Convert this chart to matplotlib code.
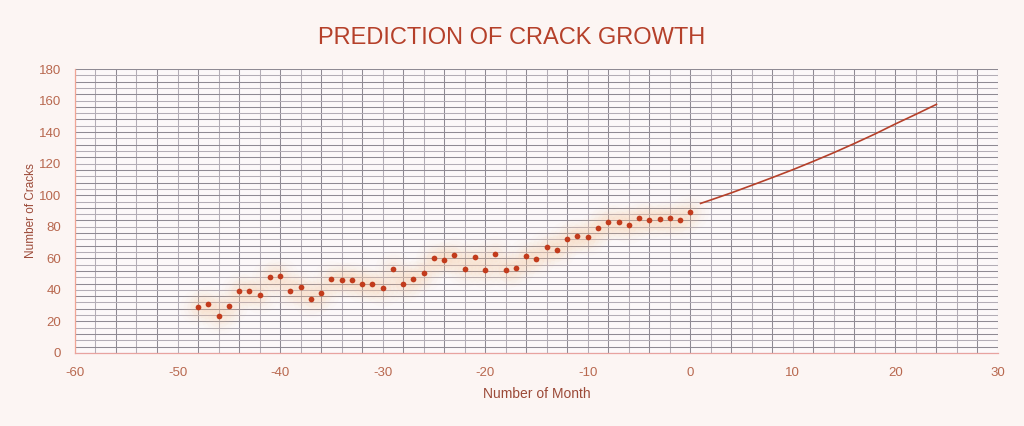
import numpy as np
import matplotlib.pyplot as plt

plt.rcParams['font.family'] = ['Liberation Sans', 'DejaVu Sans']
plt.rcParams['axes.unicode_minus'] = False

# observed cracks per month (month 0 = now)
months = list(range(-48, 1))
cracks = [29, 31, 23.5, 30, 39.5, 39, 37, 48, 49, 39, 42, 34, 38, 47, 46, 46, 44, 44,
          41, 53, 44, 47, 51, 60.5, 59, 62, 53, 61, 52.5, 63, 52.5, 54, 61.5, 59.5,
          67, 65, 72, 74, 73.5, 79, 83, 83, 81, 85.5, 84.5, 85, 85.5, 84.5, 89.5]

# predicted growth curve
pred_months = [1, 2, 4, 6, 8, 10, 12, 14, 16, 18, 20, 22, 24]
pred_cracks = [94.8, 97, 101.5, 106.3, 111.2, 116.2, 121.5, 127, 132.8, 138.8, 145.2, 151.3, 157.6]

bg = '#fcf5f3'
red = '#b5402a'

fig = plt.figure(figsize=(10.24, 4.26), dpi=100, facecolor=bg)
ax = fig.add_axes([0.0732, 0.1714, 0.9014, 0.6666])
ax.set_facecolor('#fcf8f9')

ax.set_xlim(-60, 30)
ax.set_ylim(0, 180)

# grid: vertical every 2 months, horizontal every 4 cracks, alternating shades
for i, gx in enumerate(np.arange(-60, 31, 2)):
    c = '#8f8a93' if i % 2 == 0 else '#b3adb6'
    ax.axvline(gx, color=c, lw=0.75, zorder=1)
for i, gy in enumerate(np.arange(0, 181, 4)):
    c = '#8f8a93' if i % 2 == 1 else '#b3adb6'
    ax.axhline(gy, color=c, lw=0.75, zorder=1)

# soft glow behind the points
for s, a in [(700, 0.035), (450, 0.045), (260, 0.06), (130, 0.08)]:
    ax.scatter(months, cracks, s=s, color='#f8c79a', alpha=a, linewidths=0, zorder=2)
ax.scatter(months, cracks, s=17, color='#c23b1c', linewidths=0, zorder=3)

ax.plot(pred_months, pred_cracks, color='#b5402a', lw=1.2, zorder=3)

ax.set_xticks(range(-60, 31, 10))
ax.set_yticks(range(0, 181, 20))
ax.tick_params(length=0, labelsize=9.5, labelcolor='#b8684f', pad=10)

for side in ['top', 'right']:
    ax.spines[side].set_visible(False)
ax.spines['left'].set_color('#f0a595')
ax.spines['bottom'].set_color('#e8a3a0')
ax.spines['left'].set_linewidth(0.9)
ax.spines['bottom'].set_linewidth(0.9)

ax.set_xlabel('Number of Month', fontsize=10, color='#9c4a38', labelpad=6)
ax.set_ylabel('Number of Cracks', fontsize=8.5, color='#9c4a38', labelpad=1)

fig.text(0.4995, 0.91, 'PREDICTION OF CRACK GROWTH', ha='center', va='center',
         fontsize=17, color=red)

fig.savefig('out.png', dpi=100, facecolor=bg)
